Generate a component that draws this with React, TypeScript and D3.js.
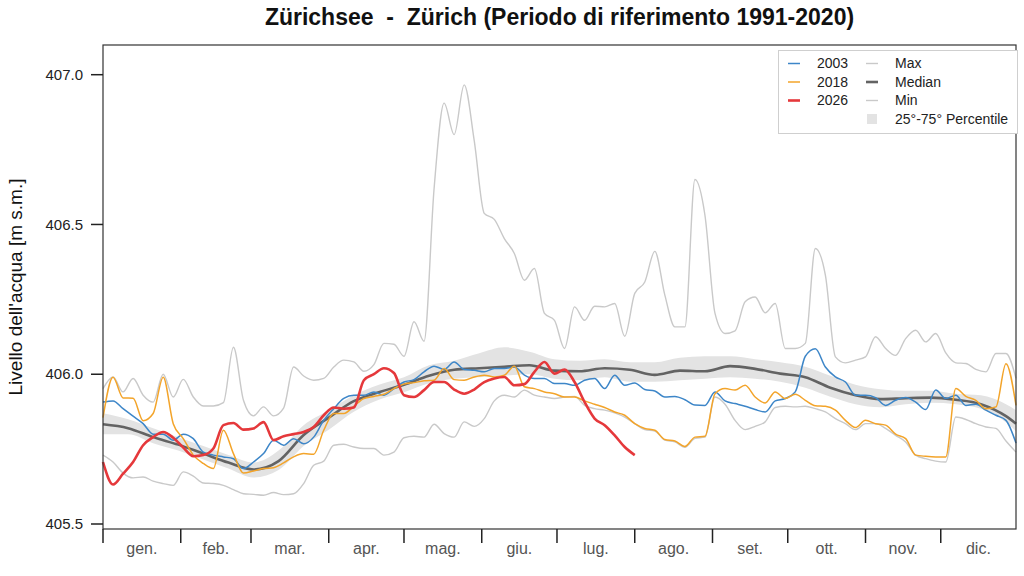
import * as d3 from "d3";
import { useEffect, useRef } from "react";

const WIDTH = 1024;
const HEIGHT = 576;
const FONT = "'Liberation Sans', Arial, Helvetica, sans-serif";

const title = "Zürichsee\u00a0\u00a0-\u00a0\u00a0Zürich (Periodo di riferimento 1991-2020)";
const yLabel = "Livello dell'acqua [m s.m.]";

const monthLabels = ["gen.", "feb.", "mar.", "apr.", "mag.", "giu.", "lug.", "ago.", "set.", "ott.", "nov.", "dic."];
// day of year where each month starts, last entry = 31 Dec
const monthStarts = [0, 31, 59, 90, 120, 151, 181, 212, 243, 273, 304, 334, 364];
const yTicks = [405.5, 406.0, 406.5, 407.0];

// daily series sampled every 4 days (day 0 .. 364)
const sampleDays = d3.range(0, 365, 4);

const values2003 = [
    405.907, 405.911, 405.885, 405.86, 405.835, 405.8, 405.8, 405.78, 405.8, 405.785,
    405.74, 405.73, 405.724, 405.718, 405.685, 405.707, 405.735, 405.78, 405.763, 405.785,
    405.768, 405.79, 405.846, 405.885, 405.919, 405.93, 405.93, 405.941, 405.93, 405.952,
    405.974, 405.982, 406.008, 406.027, 406.016, 406.041, 406.016, 406.013, 406.008, 406.019,
    406.019, 406.024, 405.997, 405.986, 405.986, 405.969, 405.969, 405.963, 405.98, 405.986,
    405.952, 405.997, 405.963, 405.971, 405.949, 405.944, 405.924, 405.926, 405.915, 405.897,
    405.896, 405.941, 405.911, 405.902, 405.893, 405.882, 405.874, 405.911, 405.919, 405.941,
    406.06, 406.085, 406.024, 405.991, 405.974, 405.93, 405.93, 405.922, 405.896, 405.913,
    405.922, 405.907, 405.882, 405.947, 405.919, 405.93, 405.896, 405.9, 405.88, 405.863,
    405.846, 405.77,
];

const values2018 = [
    405.855, 405.99, 405.921, 405.92, 405.845, 405.869, 405.99, 405.835, 405.785, 405.73,
    405.702, 405.685, 405.813, 405.735, 405.67, 405.677, 405.685, 405.688, 405.704, 405.724,
    405.735, 405.733, 405.813, 405.869, 405.869, 405.893, 405.919, 405.926, 405.933, 405.952,
    405.967, 405.972, 405.978, 405.98, 406.019, 405.982, 405.98, 405.991, 405.997, 405.991,
    405.997, 406.027, 405.958, 405.952, 405.941, 405.935, 405.924, 405.924, 405.911, 405.9,
    405.889, 405.874, 405.863, 405.835, 405.819, 405.813, 405.782, 405.777, 405.759, 405.79,
    405.793, 405.935, 405.952, 405.947, 405.963, 405.924, 405.904, 405.941, 405.919, 405.933,
    405.913, 405.895, 405.893, 405.88, 405.846, 405.822, 405.846, 405.835, 405.83, 405.8,
    405.785, 405.73, 405.726, 405.724, 405.724, 405.952, 405.926, 405.913, 405.885, 405.891,
    406.035, 405.896,
];

// 2026 runs from day 0 to day 212
const values2026 = [
    405.707, 405.632, 405.668, 405.707, 405.763, 405.79, 405.807, 405.788, 405.755, 405.726,
    405.73, 405.752, 405.83, 405.837, 405.815, 405.819, 405.84, 405.78, 405.793, 405.8,
    405.807, 405.824, 405.863, 405.889, 405.885, 405.889, 405.98, 406.0, 406.02, 406.004,
    405.93, 405.924, 405.947, 405.974, 405.974, 405.949, 405.935, 405.949, 405.974, 405.986,
    405.991, 405.963, 405.967, 406.008, 406.041, 406.002, 406.016, 405.974, 405.907, 405.852,
    405.83, 405.796, 405.757, 405.73,
];

const maxValues = [
    405.952, 405.991, 405.941, 405.986, 405.93, 405.907, 406.0, 405.924, 405.983, 405.924,
    405.894, 405.894, 405.905, 406.09, 405.913, 405.861, 405.891, 405.861, 405.887, 406.024,
    405.994, 405.98, 405.986, 406.024, 406.047, 406.041, 406.01, 406.032, 406.103, 406.1,
    406.06, 406.175, 406.11, 406.62, 406.905, 406.8, 406.966, 406.78, 406.537, 406.517,
    406.453, 406.403, 406.314, 406.353, 406.203, 406.18, 406.086, 406.225, 406.18, 406.227,
    406.225, 406.236, 406.127, 406.27, 406.308, 406.41, 406.264, 406.158, 406.158, 406.65,
    406.53, 406.203, 406.136, 406.145, 406.242, 406.258, 406.205, 406.236, 406.086, 406.086,
    406.103, 406.42, 406.331, 406.058, 406.038, 406.047, 406.058, 406.125, 406.086, 406.063,
    406.119, 406.147, 406.108, 406.136, 406.071, 406.038, 406.036, 406.016, 406.008, 406.069,
    406.069, 405.986,
];

const minValues = [
    405.73, 405.707, 405.67, 405.654, 405.657, 405.643, 405.635, 405.629, 405.674, 405.66,
    405.637, 405.635, 405.629, 405.615, 405.601, 405.599, 405.596, 405.605, 405.598, 405.601,
    405.635, 405.696, 405.71, 405.763, 405.766, 405.757, 405.752, 405.752, 405.73, 405.74,
    405.788, 405.793, 405.79, 405.833, 405.802, 405.79, 405.841, 405.826, 405.852, 405.911,
    405.93, 405.924, 405.947, 405.93, 405.924, 405.919, 405.924, 405.926, 405.896, 405.885,
    405.88, 405.871, 405.857, 405.835, 405.815, 405.81, 405.78, 405.774, 405.756, 405.786,
    405.79, 405.924, 405.9, 405.846, 405.815, 405.826, 405.841, 405.889, 405.893, 405.891,
    405.893, 405.885, 405.874, 405.852, 405.835, 405.815, 405.835, 405.835, 405.819, 405.796,
    405.774, 405.73, 405.718, 405.71, 405.707, 405.857, 405.849, 405.835, 405.824, 405.819,
    405.777, 405.74,
];

// statistics sampled every 10 days
const statDays = [
    0, 10, 20, 30, 40, 50, 60, 70, 80, 90, 100, 110, 120, 130, 140, 150, 160, 170, 180,
    190, 200, 210, 220, 230, 240, 250, 260, 270, 280, 290, 300, 310, 320, 330, 340, 350,
    360, 364,
];
const medianValues = [
    405.833, 405.82, 405.79, 405.765, 405.735, 405.705, 405.682, 405.71, 405.797, 405.855,
    405.91, 405.94, 405.965, 405.995, 406.015, 406.02, 406.025, 406.03, 406.012, 406.01,
    406.02, 406.015, 405.998, 406.012, 406.01, 406.027, 406.018, 406.002, 405.99, 405.955,
    405.93, 405.917, 405.92, 405.922, 405.915, 405.9, 405.86, 405.835,
];
const q75Values = [
    405.87, 405.85, 405.82, 405.79, 405.76, 405.73, 405.705, 405.745, 405.83, 405.88,
    405.93, 405.965, 405.99, 406.03, 406.045, 406.07, 406.09, 406.075, 406.05, 406.045,
    406.05, 406.04, 406.04, 406.055, 406.06, 406.06, 406.05, 406.04, 406.025, 405.995,
    405.965, 405.95, 405.945, 405.945, 405.935, 405.93, 405.9, 405.88,
];
const q25Values = [
    405.8, 405.8, 405.77, 405.745, 405.715, 405.685, 405.655, 405.68, 405.76, 405.815,
    405.875, 405.915, 405.94, 405.97, 405.985, 405.99, 405.995, 406.0, 405.985, 405.98,
    405.99, 405.975, 405.975, 405.98, 405.985, 405.99, 405.985, 405.975, 405.955, 405.925,
    405.9, 405.89, 405.9, 405.905, 405.9, 405.885, 405.84, 405.81,
];

const COLOR_2003 = "#3d86c8";
const COLOR_2018 = "#f3a42a";
const COLOR_2026 = "#e5383b";
const COLOR_EXTREME = "#c9c9c9";
const COLOR_MEDIAN = "#636363";
const COLOR_BAND = "#e3e3e3";

type Pt = { day: number; value: number };

function toPoints(days: number[], values: number[]): Pt[] {
    return values.map((v, i) => ({ day: days[i], value: v }));
}

function drawChart(svgElement: SVGSVGElement) {
    const svg = d3.select(svgElement);
    svg.selectAll("*").remove();

    const left = 103;
    const right = 1016;
    const top = 45;
    const bottom = 529;

    const x = d3.scaleLinear().domain([0, 364]).range([left, right]);
    const y = d3.scaleLinear().domain([405.5, 407.0]).range([524, 74.7]);

    svg.append("rect")
        .attr("width", WIDTH)
        .attr("height", HEIGHT)
        .attr("fill", "white");

    // Title
    svg.append("text")
        .attr("x", (left + right) / 2)
        .attr("y", 25)
        .attr("text-anchor", "middle")
        .style("font-family", FONT)
        .style("font-size", "23px")
        .style("font-weight", "700")
        .style("fill", "#111")
        .text(title);

    const plot = svg.append("g");

    // 25-75 percentile band
    const band = toPoints(statDays, q75Values).map((d, i) => ({
        day: d.day,
        hi: d.value,
        lo: q25Values[i],
    }));
    plot.append("path")
        .datum(band)
        .attr("fill", COLOR_BAND)
        .attr(
            "d",
            d3
                .area<{ day: number; hi: number; lo: number }>()
                .x((d) => x(d.day))
                .y0((d) => y(d.lo))
                .y1((d) => y(d.hi))
                .curve(d3.curveMonotoneX)
        );

    const line = d3
        .line<Pt>()
        .x((d) => x(d.day))
        .y((d) => y(d.value))
        .curve(d3.curveMonotoneX);

    const addLine = (pts: Pt[], color: string, width: number) => {
        plot.append("path")
            .datum(pts)
            .attr("fill", "none")
            .attr("stroke", color)
            .attr("stroke-width", width)
            .attr("stroke-linejoin", "round")
            .attr("d", line(pts));
    };

    addLine(toPoints(sampleDays, maxValues), COLOR_EXTREME, 1.4);
    addLine(toPoints(sampleDays, minValues), COLOR_EXTREME, 1.4);
    addLine(toPoints(statDays, medianValues), COLOR_MEDIAN, 2.6);
    addLine(toPoints(sampleDays, values2003), COLOR_2003, 1.5);
    addLine(toPoints(sampleDays, values2018), COLOR_2018, 1.5);
    addLine(toPoints(sampleDays, values2026), COLOR_2026, 2.6);

    // Frame
    svg.append("rect")
        .attr("x", left)
        .attr("y", top)
        .attr("width", right - left)
        .attr("height", bottom - top)
        .attr("fill", "none")
        .attr("stroke", "#333")
        .attr("stroke-width", 1.2);

    // Y axis ticks
    const yAxis = svg.append("g");
    yTicks.forEach((t) => {
        yAxis.append("line")
            .attr("x1", left - 12)
            .attr("x2", left)
            .attr("y1", y(t))
            .attr("y2", y(t))
            .attr("stroke", "#222")
            .attr("stroke-width", 1.5);
        yAxis.append("text")
            .attr("x", 83)
            .attr("y", y(t))
            .attr("dy", "0.35em")
            .attr("text-anchor", "end")
            .style("font-family", FONT)
            .style("font-size", "15px")
            .style("fill", "#222")
            .text(d3.format(".1f")(t));
    });

    svg.append("text")
        .attr("transform", `translate(22, 287) rotate(-90)`)
        .attr("text-anchor", "middle")
        .style("font-family", FONT)
        .style("font-size", "19px")
        .style("fill", "#111")
        .text(yLabel);

    // X axis (months)
    const xAxis = svg.append("g");
    monthStarts.slice(0, 12).forEach((d) => {
        xAxis.append("line")
            .attr("x1", x(d))
            .attr("x2", x(d))
            .attr("y1", bottom)
            .attr("y2", bottom + 14)
            .attr("stroke", "#222")
            .attr("stroke-width", 1.5);
    });
    monthLabels.forEach((m, i) => {
        xAxis.append("text")
            .attr("x", x((monthStarts[i] + monthStarts[i + 1]) / 2))
            .attr("y", 554)
            .attr("text-anchor", "middle")
            .style("font-family", FONT)
            .style("font-size", "16px")
            .style("fill", "#555")
            .text(m);
    });

    // Legend
    const legend = svg.append("g");
    legend.append("rect")
        .attr("x", 778.5)
        .attr("y", 50.5)
        .attr("width", 239)
        .attr("height", 83)
        .attr("fill", "white")
        .attr("stroke", "#cfcfcf");

    const rowY = [63.5, 82, 100.5, 119];
    const leftItems = [
        { label: "2003", color: COLOR_2003, width: 1.5 },
        { label: "2018", color: COLOR_2018, width: 1.5 },
        { label: "2026", color: COLOR_2026, width: 2.6 },
    ];
    const rightItems = [
        { label: "Max", color: COLOR_EXTREME, width: 1.4 },
        { label: "Median", color: COLOR_MEDIAN, width: 2.6 },
        { label: "Min", color: COLOR_EXTREME, width: 1.4 },
    ];

    const addItem = (lx: number, tx: number, yy: number, it: { label: string; color: string; width: number }) => {
        legend.append("line")
            .attr("x1", lx)
            .attr("x2", lx + 12)
            .attr("y1", yy)
            .attr("y2", yy)
            .attr("stroke", it.color)
            .attr("stroke-width", it.width);
        legend.append("text")
            .attr("x", tx)
            .attr("y", yy)
            .attr("dy", "0.35em")
            .style("font-family", FONT)
            .style("font-size", "14px")
            .style("fill", "#222")
            .text(it.label);
    };

    leftItems.forEach((it, i) => addItem(788, 817, rowY[i], it));
    rightItems.forEach((it, i) => addItem(866, 895, rowY[i], it));

    legend.append("rect")
        .attr("x", 867)
        .attr("y", rowY[3] - 5)
        .attr("width", 10)
        .attr("height", 10)
        .attr("fill", COLOR_BAND);
    legend.append("text")
        .attr("x", 895)
        .attr("y", rowY[3])
        .attr("dy", "0.35em")
        .style("font-family", FONT)
        .style("font-size", "14px")
        .style("fill", "#222")
        .text("25°-75° Percentile");
}

export default function App() {
    const chartRef = useRef<SVGSVGElement | null>(null);

    useEffect(() => {
        if (chartRef.current) {
            drawChart(chartRef.current);
        }
    }, []);

    return (
        <svg
            ref={chartRef}
            width={WIDTH}
            height={HEIGHT}
            style={{ position: "absolute", left: 0, top: 0 }}
        ></svg>
    );
}
